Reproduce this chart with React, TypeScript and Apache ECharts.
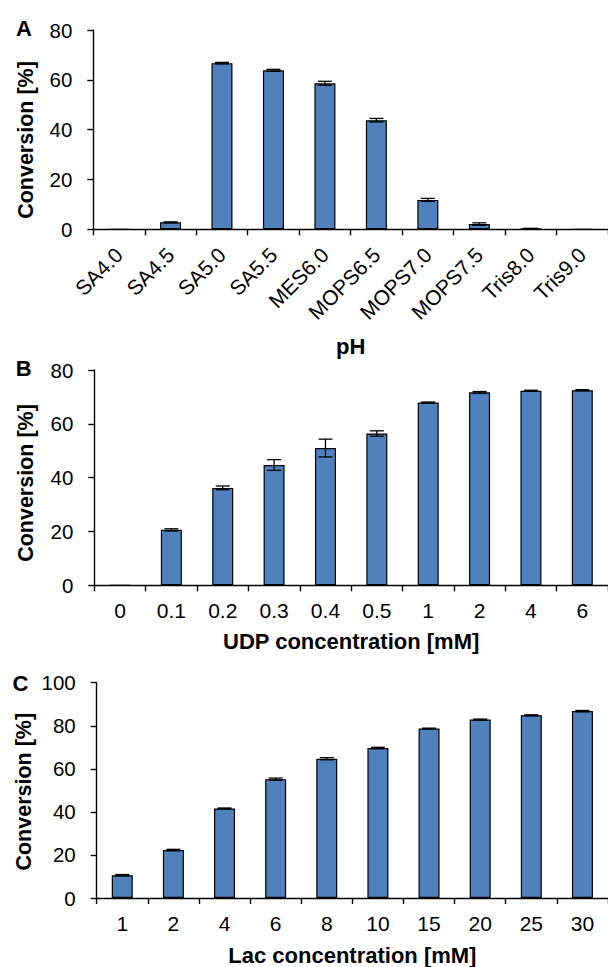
import React, { useEffect, useRef } from "react";
import * as echarts from "echarts";

const catA = ["SA4.0", "SA4.5", "SA5.0", "SA5.5", "MES6.0", "MOPS6.5", "MOPS7.0", "MOPS7.5", "Tris8.0", "Tris9.0"];
const valA = [0, 2.8, 66.7, 63.8, 58.6, 43.8, 11.8, 2.1, 0.3, 0];
const errA = [0, 0.2, 0.3, 0.4, 0.8, 0.7, 0.6, 0.5, 0.1, 0];

const catB = ["0", "0.1", "0.2", "0.3", "0.4", "0.5", "1", "2", "4", "6"];
const valB = [0, 20.6, 36.2, 44.7, 51.0, 56.4, 67.9, 71.7, 72.3, 72.5];
const errB = [0, 0.4, 0.7, 2.0, 3.3, 1.0, 0.2, 0.3, 0.2, 0.2];

const catC = ["1", "2", "4", "6", "8", "10", "15", "20", "25", "30"];
const valC = [10.6, 22.3, 41.6, 55.2, 64.7, 69.7, 78.7, 82.9, 84.9, 86.8];
const errC = [0.3, 0.3, 0.2, 0.5, 0.5, 0.3, 0.2, 0.2, 0.2, 0.3];

const xNames = ["pH", "UDP concentration [mM]", "Lac concentration [mM]"];
const yName = "Conversion [%]";
const panelLetters = ["A", "B", "C"];
const yMax = [80, 80, 100];

const FONT = "'Liberation Sans', Arial, Helvetica, sans-serif";
const BAR = "#4F81BD";

export default function App() {
  const ref = useRef<HTMLDivElement>(null);
  useEffect(() => {
    if (!ref.current) return;
    const chart = echarts.init(ref.current, null, { renderer: "svg" });
    const grids = [
      { left: 93.3, top: 30, width: 517, height: 199.3 },
      { left: 94.3, top: 370, width: 520, height: 215.3 },
      { left: 96.7, top: 682.7, width: 518, height: 216.3 },
    ];
    const cats = [catA, catB, catC];
    const vals = [valA, valB, valC];
    const errs = [errA, errB, errC];
    const nameGaps = [106, 45, 46];

    const axisLine = { show: true, lineStyle: { color: "#000", width: 1.4 } };
    const axisTick = { show: true, length: 6, lineStyle: { color: "#000", width: 1.4 } };

    const xAxis = cats.map((c, i) => ({
      type: "category",
      gridIndex: i,
      data: c,
      name: xNames[i],
      nameLocation: "middle",
      nameGap: nameGaps[i],
      nameTextStyle: { fontFamily: FONT, fontSize: 22, fontWeight: "bold", color: "#000" },
      axisLine,
      axisTick: { ...axisTick, alignWithLabel: false },
      axisLabel:
        i === 0
          ? { rotate: 45, margin: 22, fontFamily: FONT, fontSize: 21, color: "#000", interval: 0 }
          : { margin: 15, fontFamily: FONT, fontSize: 21, color: "#000", interval: 0 },
      splitLine: { show: false },
    }));

    const yAxis = yMax.map((m, i) => ({
      type: "value",
      gridIndex: i,
      min: 0,
      max: m,
      interval: 20,
      axisLine,
      axisTick,
      axisLabel: { margin: 21, fontFamily: FONT, fontSize: 20.5, color: "#000" },
      splitLine: { show: false },
    }));

    const series: any[] = [];
    vals.forEach((v, i) => {
      series.push({
        type: "bar",
        xAxisIndex: i,
        yAxisIndex: i,
        data: v,
        barWidth: 21,
        itemStyle: { color: BAR, borderColor: "#000", borderWidth: 1.2 },
        silent: true,
      });
      series.push({
        type: "custom",
        xAxisIndex: i,
        yAxisIndex: i,
        data: v.map((y, j) => [j, y, errs[i][j]]),
        z: 10,
        renderItem: (params: any, api: any) => {
          const x = api.value(0);
          const y = api.value(1);
          const e = api.value(2);
          if (!e) return { type: "group", children: [] };
          const hi = api.coord([x, y + e]);
          const lo = api.coord([x, y - e]);
          const hw = 7;
          const st = { stroke: "#000", lineWidth: 1.3 };
          return {
            type: "group",
            children: [
              { type: "line", shape: { x1: hi[0], y1: hi[1], x2: lo[0], y2: lo[1] }, style: st },
              { type: "line", shape: { x1: hi[0] - hw, y1: hi[1], x2: hi[0] + hw, y2: hi[1] }, style: st },
              { type: "line", shape: { x1: lo[0] - hw, y1: lo[1], x2: lo[0] + hw, y2: lo[1] }, style: st },
            ],
          };
        },
      });
    });

    const yNameCenters = [
      [25.8, 140],
      [25.8, 483],
      [23.8, 791.7],
    ];
    const letterPos = [
      [24, 28.3],
      [23.7, 368.7],
      [20.5, 683.3],
    ];

    const graphic: any[] = [];
    yNameCenters.forEach(([x, y]) => {
      graphic.push({
        type: "text",
        x,
        y,
        rotation: Math.PI / 2,
        style: {
          text: yName,
          fontFamily: FONT,
          fontSize: 21.5,
          fontWeight: "bold",
          fill: "#000",
          align: "center",
          verticalAlign: "middle",
        },
      });
    });
    letterPos.forEach(([x, y], i) => {
      graphic.push({
        type: "text",
        x,
        y,
        style: {
          text: panelLetters[i],
          fontFamily: FONT,
          fontSize: 22,
          fontWeight: "bold",
          fill: "#000",
          align: "center",
          verticalAlign: "middle",
        },
      });
    });

    chart.setOption({
      animation: false,
      backgroundColor: "#fff",
      grid: grids,
      xAxis,
      yAxis,
      series,
      graphic,
    });
    return () => chart.dispose();
  }, []);
  return (
    <div
      ref={ref}
      style={{ position: "fixed", left: 0, top: 0, width: 608, height: 967, background: "#fff" }}
    />
  );
}
